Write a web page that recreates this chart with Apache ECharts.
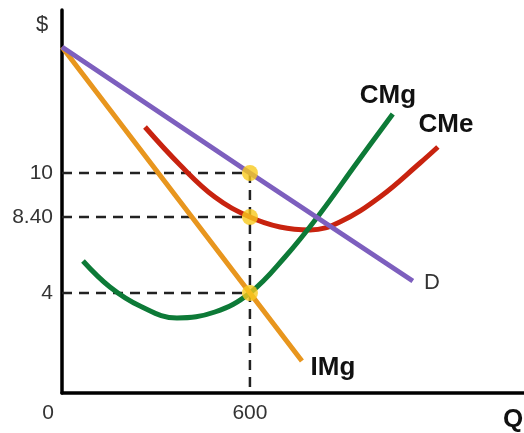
<!DOCTYPE html>
<html>
<head>
<meta charset="utf-8">
<script src="https://cdn.jsdelivr.net/npm/echarts@6/dist/echarts.min.js"></script>
<style>
html,body{margin:0;padding:0;background:#fff;}
#c{width:524px;height:433px;}
</style>
</head>
<body>
<div id="c"></div>
<script>
// ---- data (Q, $) ----
const demandD = [[0, 16.3], [600, 10], [1120, 4.6]];
const revenueIMg = [[0, 16.3], [600, 4], [766, 0.6]];
const costCMg = [[67, 5.6], [153, 4.3], [249, 3.35], [367, 2.75], [488, 3.05], [600, 4.0], [712, 5.8], [823, 7.95], [941, 10.5], [1056, 12.95]];
const costCMe = [[265, 12.3], [377, 10.4], [488, 8.8], [600, 7.8], [696, 7.3], [792, 7.15], [887, 7.55], [1015, 8.8], [1143, 10.5], [1200, 11.3]];
const qStar = 600;
const priceLevels = [10, 7.8, 4];          // positions of the three guide levels
const yTickValues = [4, 7.8, 10];
const yTickLabels = ['4', '8.40', '10'];
const xTickValues = [0, 600];
const xTickLabels = ['0', '600'];

const guideSeries = priceLevels.map(p => ({
  type: 'line', data: [[0, p], [qStar, p]], symbol: 'none', silent: true, z: 1,
  lineStyle: { color: '#222', width: 2.5, type: [10, 7] }
}));
guideSeries.push({
  type: 'line', data: [[qStar, priceLevels[0]], [qStar, -1]], symbol: 'none', silent: true, z: 1,
  lineStyle: { color: '#222', width: 2.5, type: [10, 7] }
});

const chart = echarts.init(document.getElementById('c'), null, { renderer: 'canvas' });
const lbl = (text, x, y, size, bold, color) => ({
  type: 'text', x: x, y: y, z: 100,
  style: { text, fontSize: size, fontWeight: bold ? 'bold' : 'normal',
           fontFamily: 'Liberation Sans, Arial, sans-serif', fill: color || '#111',
           align: 'center', verticalAlign: 'middle' }
});

chart.setOption({
  animation: false,
  backgroundColor: '#fff',
  grid: { left: 62, right: 0, top: 10, bottom: 40, containLabel: false },
  xAxis: {
    type: 'value', min: 0, max: 1475,
    splitLine: { show: false },
    axisLine: { show: true, onZero: false, lineStyle: { color: '#000', width: 3.5 } },
    axisTick: { show: false },
    axisLabel: {
      customValues: xTickValues,
      margin: 10,
      fontSize: 21, color: '#333', fontFamily: 'Liberation Sans, Arial, sans-serif',
      formatter: v => { const i = xTickValues.indexOf(v); return i === 0 ? '{z|' + xTickLabels[i] + '}' : xTickLabels[i]; },
      rich: { z: { fontSize: 21, color: '#333', padding: [0, 28, 0, 0] } }
    }
  },
  yAxis: {
    type: 'value', min: -1, max: 18.15,
    splitLine: { show: false },
    axisLine: { show: true, onZero: false, lineStyle: { color: '#000', width: 3.5 } },
    axisTick: { show: false },
    axisLabel: {
      customValues: yTickValues,
      margin: 9,
      fontSize: 21, color: '#333', fontFamily: 'Liberation Sans, Arial, sans-serif',
      formatter: v => yTickLabels[yTickValues.indexOf(v)]
    }
  },
  series: guideSeries.concat([
    { type: 'line', data: costCMe, smooth: 0.4, symbol: 'none', z: 3,
      lineStyle: { color: '#c8230f', width: 5 } },
    { type: 'line', data: costCMg, smooth: 0.4, symbol: 'none', z: 4,
      lineStyle: { color: '#0d7a37', width: 5 } },
    { type: 'line', data: revenueIMg, symbol: 'none', z: 5,
      lineStyle: { color: '#e8961e', width: 5 } },
    { type: 'line', data: demandD, symbol: 'none', z: 5,
      lineStyle: { color: '#7d5fbe', width: 5 } },
    { type: 'scatter', data: priceLevels.map(p => [qStar, p]), symbolSize: 16, z: 10,
      itemStyle: { color: '#f8c91d' } }
  ]),
  graphic: [
    lbl('$', 42, 25, 22, false, '#333'),
    lbl('CMg', 388, 96, 26, true),
    lbl('CMe', 446, 125, 26, true),
    lbl('D', 432, 283, 22, false, '#333'),
    lbl('IMg', 333, 368, 26, true),
    lbl('Q', 513, 420, 26, true)
  ]
});
</script>
</body>
</html>
